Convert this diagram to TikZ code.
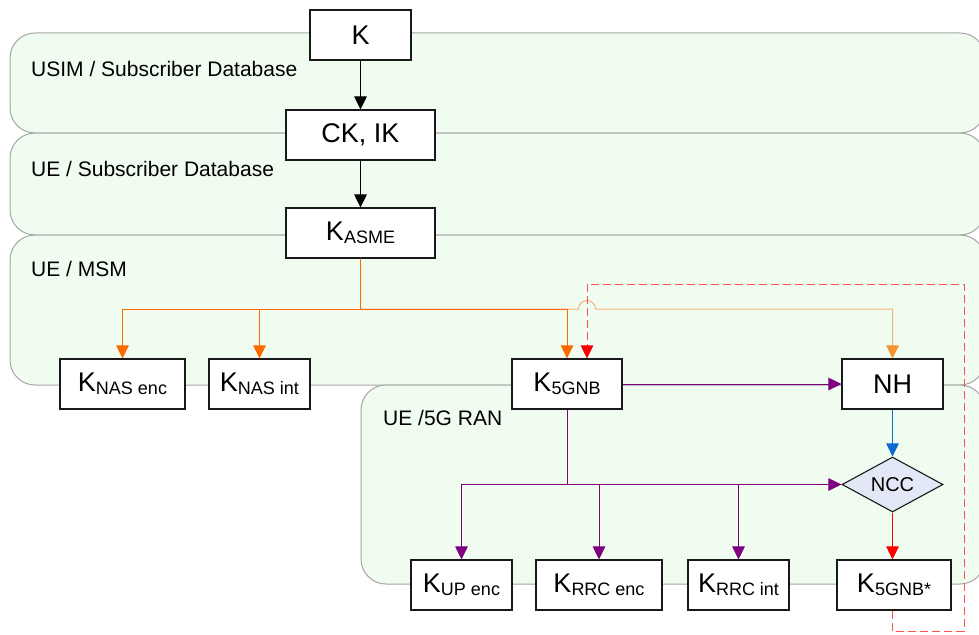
\documentclass[tikz,border=0pt]{standalone}
\usepackage{fontspec}
\setmainfont{Liberation Sans}
\usetikzlibrary{arrows.meta,shapes.geometric,calc}

\definecolor{bandfill}{RGB}{241,252,240}
\definecolor{bandline}{RGB}{165,165,165}
\definecolor{orA}{RGB}{255,106,0}
\definecolor{orB}{RGB}{245,178,120}
\definecolor{orBtip}{RGB}{242,148,48}
\definecolor{purp}{RGB}{128,0,128}
\definecolor{nhblue}{RGB}{10,106,207}
\definecolor{nccfill}{RGB}{226,232,245}
\definecolor{dashred}{RGB}{255,80,80}

% key name with a smaller, slightly lowered index
\newcommand\keysub[1]{K\raisebox{-3.5pt}{\fontsize{18}{18}\selectfont #1}}

\begin{document}
\begin{tikzpicture}[x=1pt,y=-1pt,
  band/.style={draw=bandline, fill=bandfill, line width=1pt, rounded corners=25pt},
  keybox/.style={draw=black!90, fill=white, line width=1.1pt, inner sep=0pt,
    minimum height=50pt, font=\fontsize{27}{30}\selectfont},
  bandlabel/.style={anchor=base west, inner sep=0pt, font=\fontsize{21}{24}\selectfont},
  tip/.style={-{Triangle[length=13pt,width=12.5pt,#1]}},
  conn/.style={line width=1pt, draw=#1, tip={color=#1}},
  nhconn/.style={line width=1pt, draw=orB, tip={color=orBtip}},
  feedback/.style={line width=1pt, draw=dashred, dash pattern=on 8pt off 4pt, tip={color=red}}
]
\clip (0,0) rectangle (979,634);

% domain bands
\draw[band] (10,33) rectangle (985,133);
\draw[band] (10,133) rectangle (985,235);
\draw[band] (10,235) rectangle (985,385);
\draw[band] (361,385) rectangle (985,584);

\node[bandlabel] (lusim) at (31,76) {USIM / Subscriber Database};
\node[bandlabel] (lsub) at (31,176) {UE / Subscriber Database};
\node[bandlabel] (lmsm) at (31,276) {UE / MSM};
\node[bandlabel] (lran) at (383,425) {UE /5G RAN};

% key hierarchy
\node[keybox, minimum width=101pt] (k) at (360.5,35) {K};
\node[keybox, minimum width=149pt] (ckik) at (360.5,135) {CK, IK};
\node[keybox, minimum width=149pt] (kasme) at (360.5,233) {\keysub{ASME}};
\node[keybox, minimum width=125pt] (knase) at (122.5,384) {\keysub{NAS enc}};
\node[keybox, minimum width=101pt] (knasi) at (259.5,384) {\keysub{NAS int}};
\node[keybox, minimum width=110pt] (k5gnb) at (567,384) {\keysub{5GNB}};
\node[keybox, minimum width=101pt] (nh) at (892.5,384) {NH};
\node[diamond, draw=black!90, fill=nccfill, line width=1.1pt, inner sep=0pt,
  aspect=1.84, minimum width=101pt, minimum height=55pt,
  font=\fontsize{20}{22}\selectfont] (ncc) at (892.5,484.5) {NCC};
\node[keybox, minimum width=101pt] (kup) at (461.5,585) {\keysub{UP enc}};
\node[keybox, minimum width=126pt] (krrce) at (599,585) {\keysub{RRC enc}};
\node[keybox, minimum width=101pt] (krrci) at (738.5,585) {\keysub{RRC int}};
\node[keybox, minimum width=114pt] (k5gnbs) at (894,585) {\keysub{5GNB*}};

% derivations
\draw[conn=black] (k) -- (ckik);
\draw[conn=black] (ckik) -- (kasme);

\coordinate (jo) at (360.5,309);
\coordinate (hopL) at (578.5,309);
\draw[nhconn] (kasme.south) -- (jo) -- (hopL)
  arc[start angle=180, end angle=360, radius=8.5] -| (nh.north);
\draw[conn=orA] (kasme.south) -- (jo) -| (k5gnb.north);
\draw[conn=orA] (jo) -| (knase.north);
\draw[conn=orA] (jo) -| (knasi.north);

\draw[conn=purp] (k5gnb) -- (nh);
\coordinate (jp) at (k5gnb.south |- ncc.west);
\draw[conn=purp] (k5gnb.south) -- (jp) -| (kup.north);
\draw[conn=purp] (jp) -| (krrce.north);
\draw[conn=purp] (jp) -| (krrci.north);
\draw[conn=purp] (jp) -- (ncc.west);

\draw[conn=nhblue] (nh.south) -- (ncc.north);
\draw[conn=red] (ncc.south) -- (ncc.south |- k5gnbs.north);

% feedback of the derived key
\coordinate (dbot) at (964,631);
\coordinate (dtop) at (964,284);
\draw[feedback] (ncc.south |- k5gnbs.south) |- (dbot) -- (dtop)
  -| ([xshift=20pt]k5gnb.north);
\end{tikzpicture}
\end{document}
